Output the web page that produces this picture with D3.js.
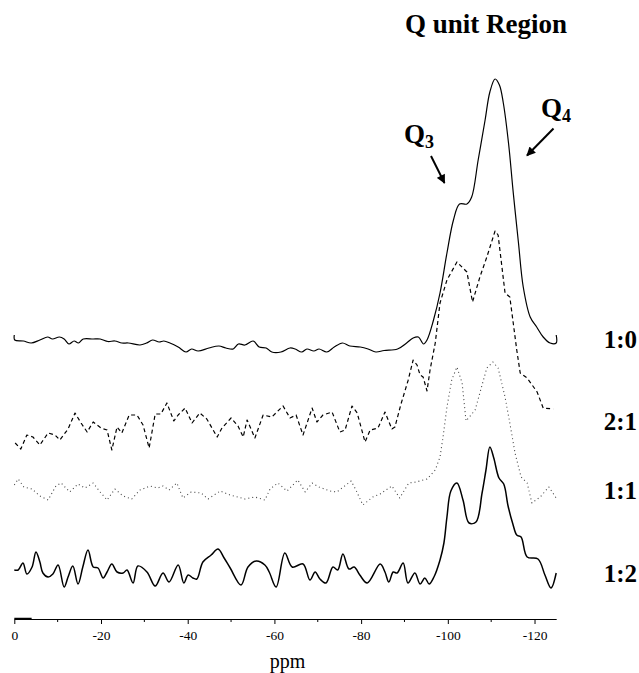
<!DOCTYPE html>
<html>
<head>
<meta charset="utf-8">
<script src="https://cdn.jsdelivr.net/npm/d3@7"></script>
<style>
  html, body { margin: 0; padding: 0; background: #fff; }
  svg { display: block; }
  text { font-family: "Liberation Serif", "Times New Roman", serif; fill: #000; }
</style>
</head>
<body>
<svg id="chart" width="639" height="673"></svg>
<script>
// ---------- DATA ----------
const seriesNames = ["1:0", "2:1", "1:1", "1:2"];
const tickValues = [0, -20, -40, -60, -80, -100, -120];
const minorTicks = [-10, -30, -50, -70, -90, -110];
const axisTitle = "ppm";
const chartTitle = "Q unit Region";

// vertical offset of each stacked trace (intensity units)
const traceOffsets = [275, 195, 130, 45];

// 1:0 (solid)
const shift10 = [0,-0.1,-2.1,-3.9,-5.9,-7.7,-8.8,-10.4,-11.5,-12.6,-13.8,-14.8,-15.9,-18.2,-19.8,-21.6,-23.2,-24.8,-26.3,-29.0,-30.5,-31.9,-33.4,-34.5,-35.9,-37.8,-39.6,-40.9,-42.4,-44.9,-47.2,-48.8,-50.5,-51.7,-53.2,-55.1,-56.5,-58.1,-59.4,-61.5,-63.6,-64.8,-66.3,-67.5,-69.1,-70.3,-72.1,-73.8,-75.7,-77.4,-79.8,-81.6,-83.4,-85.3,-88.4,-90.5,-92.0,-93.2,-94.4,-95.2,-96.7,-98.2,-99.8,-101.3,-102.7,-104.4,-105.5,-107.0,-108.6,-109.7,-110.9,-111.9,-112.8,-114.0,-115.1,-116.3,-117.4,-119.0,-120.5,-122.0,-123.6,-125.0,-125.0];
const int10 = [10,5,4,2,5,8,6,8,6,1,4,2,6,6,6,3.5,4,2,2,0,2,5,3,4,2,-2,-7,-4,-6,-3,-1,-3,-4,1,0,4,-2,-3,-7,-7,-3,-4,-7,-4,-6,-4,-7,-2,2,-1,-2,-4,-7,-5.5,-4,2,7,8,1,5,25,52,92,125,141,141,148,185,225,253,266,260,242,202,152,102,58,28,18,8,2,2,10];

// 2:1 (dashed)
const shift21 = [-0.2,-1.5,-2.9,-4.3,-5.9,-7.8,-9.4,-10.5,-12.4,-14.0,-15.4,-16.8,-18.2,-20.0,-21.4,-22.5,-23.7,-24.8,-26.5,-28.3,-29.7,-31.1,-32.5,-33.8,-35.2,-36.8,-37.8,-39.4,-41.0,-42.8,-44.4,-46.8,-47.9,-50.0,-51.6,-52.8,-53.7,-55.5,-57.4,-59.4,-62.0,-63.6,-65.0,-66.6,-68.7,-69.8,-71.2,-73.3,-75.1,-76.3,-77.9,-79.1,-80.9,-82.1,-83.9,-85.5,-87.1,-87.8,-89.2,-90.8,-92.0,-92.9,-93.6,-94.3,-95.2,-95.9,-97.1,-98.2,-99.8,-102.1,-104.4,-105.7,-107.4,-109.0,-110.9,-111.6,-113.2,-114.3,-115.0,-115.9,-116.7,-118.3,-120.6,-122.0,-124.3];
const int21 = [-18,-24,-10,-12,-20,-8,-10,-15,-4,12,2,-7,3,-3,-5,-25,-2,-8,10,10,0,-23,11,11,22,4,10,17,2,12,6,-12,-3,7,-1,-12,5,-13,10,8,19,7,10,-10,17,3,10,13,-7,-5,19,12,-17,-5,-3,13,-4,-2,21,44,65,60,50,48,34,55,82,122,145,163,153,123,148,168,194,190,132,128,105,75,52,47,33,17,16];

// 1:1 (dotted)
const shift11 = [0,-0.9,-2.2,-4.1,-5.9,-7.8,-9.6,-10.8,-12.8,-14.7,-16.3,-18.2,-19.8,-21.4,-23.2,-25.1,-27.1,-29.0,-31.3,-33.1,-34.3,-35.7,-37.5,-38.9,-40.8,-43.1,-44.7,-47.5,-49.8,-53.2,-55.5,-57.8,-59.0,-60.8,-62.9,-65.4,-67.1,-68.7,-70.3,-72.8,-74.4,-77.7,-78.8,-80.4,-82.7,-84.4,-87.1,-88.9,-91.0,-92.7,-95.2,-97.1,-98.2,-98.9,-99.8,-100.9,-102.1,-103.3,-104.2,-106.3,-107.9,-109.0,-110.4,-111.6,-113.2,-114.3,-115.5,-116.9,-118.3,-119.4,-121.3,-123.3,-125.0];
const int11 = [5,11,3,1,-6,-10,4,7,-2,6,2,7,-2,-10,1,-6,-9,0,4,2,4,0,7,-8,-2,-3,-9,-1,-5,-9,-7,-10,1,7,-1,10,-2,7,3,-1,-2,9,0,-15,-7,-4,4,-8,7,8,11,20,33,53,83,110,123,107,69,80,105,122,128,122,93,67,37,13,7,-13,-7,3,-8];

// 1:2 (solid)
const shift12 = [0,-0.9,-2.0,-2.9,-4.1,-5.0,-5.9,-6.6,-7.8,-8.9,-10.1,-11.5,-12.4,-13.5,-14.7,-15.8,-17.0,-18.2,-19.3,-20.5,-21.4,-22.5,-23.7,-25.1,-26.0,-27.4,-28.5,-30.6,-32.5,-34.3,-35.7,-37.8,-39.1,-40.1,-41.2,-42.1,-43.5,-45.4,-47.0,-48.4,-49.8,-52.3,-53.9,-55.8,-57.8,-58.8,-60.4,-62.4,-64.1,-66.6,-68.2,-69.4,-70.5,-71.9,-73.5,-74.6,-75.8,-77.2,-78.4,-79.7,-81.4,-84.4,-85.5,-86.4,-87.4,-88.3,-89.7,-90.8,-92.4,-93.6,-94.7,-95.7,-96.8,-98.2,-99.1,-99.8,-100.7,-102.1,-103.5,-104.9,-106.5,-107.9,-108.8,-109.7,-110.6,-111.8,-112.9,-113.9,-115.0,-115.9,-116.9,-118.3,-120.8,-122.4,-123.8,-125.0];
const int12 = [5,5,12,1,8,23,13,2,-2,1,10,-12,-2,9,-9,8,25,8,7,-3,3,11,3,2,5,-8,9,3,-11,2,-7,10,-8,0,-3,-4,13,20,26,17,7,-10,8,14,10,3,-12,22,8,11,-5,3,-4,-8,8,5,21,6,8,0,-8,11,3,-7,3,2,12,-8,2,-9,-3,-9,-2,15,32,58,84,92,75,52,53,82,105,128,117,97,91,69,51,40,38,18,16,0,-13,2];

const shifts = [shift10, shift21, shift11, shift12];
const intensities = [int10, int21, int11, int12];

// ---------- STYLES ----------
const lineStyles = [
  { width: 1.2, dash: null, curve: d3.curveCatmullRom.alpha(0.5), color: "#000" },
  { width: 1.2, dash: "4,3", curve: d3.curveLinear, color: "#000" },
  { width: 1.1, dash: "1,3", curve: d3.curveLinear, color: "#444" },
  { width: 1.5, dash: null, curve: d3.curveCatmullRom.alpha(0.5), color: "#000" }
];
const labelBaselines = [348, 430, 499, 582];

const svg = d3.select("#chart");

const x = d3.scaleLinear().domain([0, -125]).range([14.3, 556.2]);
const y = d3.scaleLinear().domain([0, 620]).range([620, 0]);
const axisY = 619;

// traces
shifts.forEach((sh, i) => {
  const pts = sh.map((p, k) => [p, intensities[i][k] + traceOffsets[i]]);
  const line = d3.line().x(d => x(d[0])).y(d => y(d[1])).curve(lineStyles[i].curve);
  svg.append("path")
    .attr("d", line(pts))
    .attr("fill", "none")
    .attr("stroke", lineStyles[i].color)
    .attr("stroke-width", lineStyles[i].width)
    .attr("stroke-linejoin", "round")
    .attr("stroke-dasharray", lineStyles[i].dash);
  svg.append("text")
    .attr("x", 637).attr("y", labelBaselines[i])
    .attr("text-anchor", "end")
    .style("font-size", "25px").style("font-weight", "bold")
    .text(seriesNames[i]);
});

// axis
const axis = d3.axisBottom(x).tickValues(tickValues).tickSize(5).tickSizeOuter(0)
  .tickFormat(d => d === 0 ? "0" : "-" + Math.abs(d));
const gAxis = svg.append("g").attr("transform", `translate(0,${axisY})`).call(axis);
gAxis.select(".domain").attr("stroke", "#000").attr("stroke-width", 1);
gAxis.selectAll(".tick line").attr("stroke", "#000");
gAxis.selectAll(".tick text")
  .attr("y", 21).attr("dy", 0)
  .style("font-family", "'Liberation Serif', 'Times New Roman', serif")
  .style("font-size", "13.5px").style("fill", "#000");
gAxis.selectAll(".minor").data(minorTicks).enter().append("line")
  .attr("x1", d => x(d)).attr("x2", d => x(d))
  .attr("y1", 0).attr("y2", 3)
  .attr("stroke", "#000");
gAxis.append("line")
  .attr("x1", x(0)).attr("x2", x(-4)).attr("y1", -0.5).attr("y2", -0.5)
  .attr("stroke", "#000").attr("stroke-width", 1.5);

svg.append("text")
  .attr("x", 287.5).attr("y", 668)
  .attr("text-anchor", "middle").style("font-size", "20px")
  .text(axisTitle);

// title
svg.append("text")
  .attr("x", 405).attr("y", 33)
  .style("font-size", "27px").style("font-weight", "bold")
  .text(chartTitle);

// Q labels
function qLabel(xq, yq, sub) {
  const t = svg.append("text").attr("x", xq).attr("y", yq)
    .style("font-size", "27px").style("font-weight", "bold");
  t.append("tspan").text("Q");
  t.append("tspan").style("font-size", "18px").attr("dy", 5).text(sub);
}
qLabel(404, 143, "3");
qLabel(541, 117, "4");

// arrows
const defs = svg.append("defs");
defs.append("marker").attr("id", "ah")
  .attr("viewBox", "0 0 10 10").attr("refX", 9).attr("refY", 5)
  .attr("markerWidth", 11).attr("markerHeight", 9).attr("markerUnits", "userSpaceOnUse")
  .attr("orient", "auto")
  .append("path").attr("d", "M0,0 L10,5 L0,10 Z").attr("fill", "#000");
[[431, 156, 444.5, 183], [553.5, 128.5, 527, 155.5]].forEach(a => {
  svg.append("line")
    .attr("x1", a[0]).attr("y1", a[1]).attr("x2", a[2]).attr("y2", a[3])
    .attr("stroke", "#000").attr("stroke-width", 2)
    .attr("marker-end", "url(#ah)");
});
</script>
</body>
</html>
